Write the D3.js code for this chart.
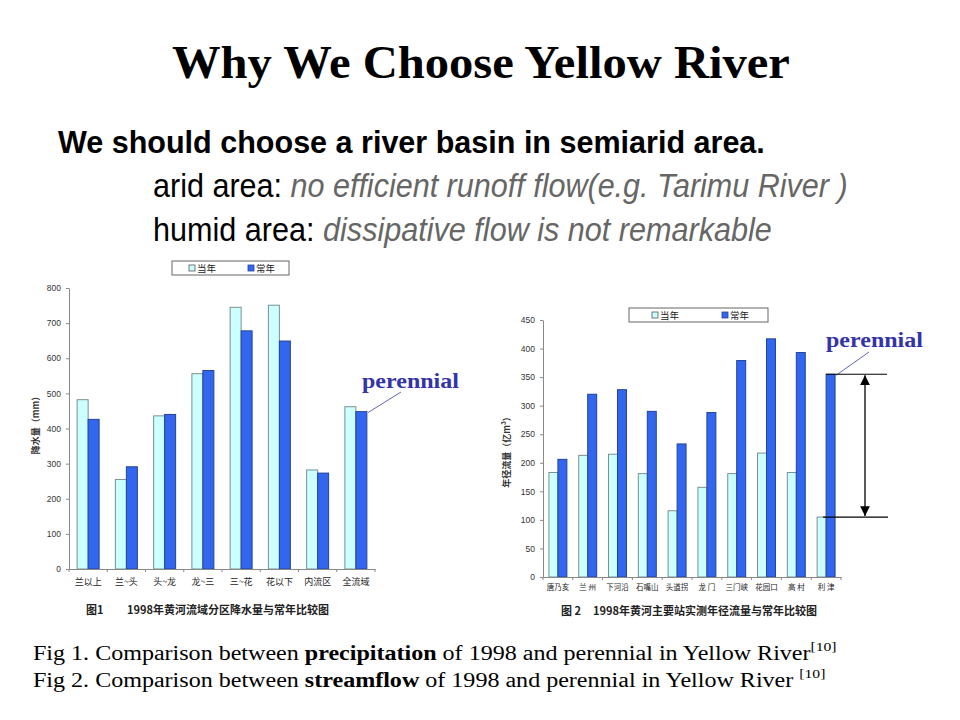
<!DOCTYPE html>
<html>
<head>
<meta charset="utf-8">
<script src="https://cdn.jsdelivr.net/npm/d3@7"></script>
<style>
  html, body { margin: 0; padding: 0; background: #fff; }
  svg { display: block; }
</style>
</head>
<body>
<div id="chart"></div>
<script>
// data
const regions = ['兰以上', '兰~头', '头~龙', '龙~三', '三~花', '花以下', '内流区', '全流域'];
const precip1998 = [482, 255, 436, 556, 745, 751, 282, 462];
const precipNormal = [426, 291, 440, 565, 678, 649, 273, 448];
const precipTicks = [0, 100, 200, 300, 400, 500, 600, 700, 800];

const stations = ['唐乃亥', '兰 州', '下河沿', '石嘴山', '头道拐', '龙 门', '三门峡', '花园口', '高 村', '利 津'];
const flow1998 = [183, 213, 215, 181, 116, 157, 181, 217, 183, 105];
const flowNormal = [206, 320, 328, 290, 233, 288, 379, 417, 393, 355];
const flowTicks = [0, 50, 100, 150, 200, 250, 300, 350, 400, 450];

const seriesNames = ['当年', '常年'];

const W = 960, H = 720;
const CJK = '"Noto Sans CJK SC", "Noto Sans", sans-serif';
const SANS = '"Liberation Sans", Arial, sans-serif';
const SERIF = '"Liberation Serif", "Times New Roman", serif';
const lightFill = '#ccffff', lightStroke = '#7a9090';
const blueFill = '#3366ee', blueStroke = '#23449a';

const svg = d3.select('#chart').append('svg').attr('width', W).attr('height', H);

// draw text then squeeze it horizontally to the width seen in the slide
function fitText(x, y, width, parts, base) {
  const t = svg.append('text').attr('x', 0).attr('y', 0);
  Object.entries(base).forEach(([k, v]) => t.style(k, v));
  parts.forEach((p) => {
    const s = t.append('tspan').text(p.text);
    if (p.style) Object.entries(p.style).forEach(([k, v]) => s.style(k, v));
    if (p.dy) s.attr('dy', p.dy);
  });
  const w = t.node().getComputedTextLength();
  t.attr('transform', `translate(${x},${y}) scale(${width / w},1)`);
  return t;
}

// slide text
fitText(172, 78, 618, [{ text: 'Why We Choose Yellow River' }],
  { 'font-family': SERIF, 'font-weight': 'bold', 'font-size': '46px', fill: '#000' });
fitText(58, 153, 707, [{ text: 'We should choose a river basin in semiarid area.' }],
  { 'font-family': SANS, 'font-weight': 'bold', 'font-size': '32px', fill: '#000' });
fitText(153, 197, 695, [
  { text: 'arid area: ' },
  { text: 'no efficient runoff flow(e.g. Tarimu River )', style: { 'font-style': 'italic', fill: '#666' } }
], { 'font-family': SANS, 'font-size': '33px', fill: '#000' });
fitText(153, 241, 619, [
  { text: 'humid area: ' },
  { text: 'dissipative flow is not remarkable', style: { 'font-style': 'italic', fill: '#666' } }
], { 'font-family': SANS, 'font-size': '33px', fill: '#000' });

fitText(33, 660, 804, [
  { text: 'Fig 1. Comparison between ' },
  { text: 'precipitation', style: { 'font-weight': 'bold' } },
  { text: ' of 1998 and perennial in Yellow River' },
  { text: '[10]', style: { 'font-size': '13px' }, dy: -9 }
], { 'font-family': SERIF, 'font-size': '20px', fill: '#000' });
fitText(33, 687, 793, [
  { text: 'Fig 2. Comparison between ' },
  { text: 'streamflow', style: { 'font-weight': 'bold' } },
  { text: ' of 1998 and perennial in Yellow River ' },
  { text: '[10]', style: { 'font-size': '13px' }, dy: -9 }
], { 'font-family': SERIF, 'font-size': '20px', fill: '#000' });

function barChart(cfg) {
  const g = svg.append('g');
  const x = d3.scaleBand().domain(cfg.cats).range([cfg.x0, cfg.x1]).padding(0);
  const xs = d3.scaleBand().domain(seriesNames).range([0, x.bandwidth()])
    .paddingInner(0).paddingOuter(cfg.groupPad);
  const y = d3.scaleLinear().domain([0, cfg.yMax]).range([cfg.yBottom, cfg.yTop]);

  const rows = cfg.cats.map((c, i) => ({ cat: c, vals: [cfg.a[i], cfg.b[i]] }));
  const grp = g.selectAll('g.cat').data(rows).enter().append('g')
    .attr('class', 'cat').attr('transform', (d) => `translate(${x(d.cat)},0)`);
  grp.selectAll('rect').data((d) => d.vals.map((v, k) => ({ s: seriesNames[k], v, k })))
    .enter().append('rect')
    .attr('x', (d) => xs(d.s)).attr('y', (d) => y(d.v))
    .attr('width', xs.bandwidth()).attr('height', (d) => y(0) - y(d.v))
    .attr('fill', (d) => (d.k ? blueFill : lightFill))
    .attr('stroke', (d) => (d.k ? blueStroke : lightStroke))
    .attr('stroke-width', 1);

  // y axis
  const ya = g.append('g').attr('transform', `translate(${cfg.x0},0)`)
    .call(d3.axisLeft(y).tickValues(cfg.ticks).tickSize(3).tickSizeOuter(0).tickPadding(5));
  ya.selectAll('text').style('font-family', SANS).style('font-size', '8.5px').attr('fill', '#333');
  ya.selectAll('line, path').attr('stroke', '#888');

  // x axis: labels under each category, ticks on the boundaries
  const xa = g.append('g').attr('transform', `translate(0,${cfg.yBottom})`)
    .call(d3.axisBottom(x).tickSize(0).tickPadding(cfg.labelPad));
  xa.select('path').attr('stroke', '#888');
  xa.selectAll('text').style('font-family', CJK).style('font-size', cfg.labelSize).attr('fill', '#222');
  const bounds = cfg.cats.map((c) => x(c)).concat([x(cfg.cats[cfg.cats.length - 1]) + x.step()]);
  g.selectAll('line.bt').data(bounds).enter().append('line').attr('class', 'bt')
    .attr('x1', (d) => d).attr('x2', (d) => d)
    .attr('y1', cfg.yBottom).attr('y2', cfg.yBottom + 3).attr('stroke', '#888');

  // y title
  g.append('text').attr('transform', `translate(${cfg.yTitleX},${cfg.yTitleY}) rotate(-90)`)
    .attr('text-anchor', 'middle').style('font-family', CJK).style('font-size', '9px')
    .style('font-weight', 'bold').attr('fill', '#333').text(cfg.yTitle);

  // legend
  const lg = g.append('g');
  lg.append('rect').attr('x', cfg.legend.x).attr('y', cfg.legend.y)
    .attr('width', cfg.legend.w).attr('height', cfg.legend.h)
    .attr('fill', '#fff').attr('stroke', '#666').attr('stroke-width', 1);
  seriesNames.forEach((s, k) => {
    const sx = cfg.legend.x + cfg.legend.items[k];
    const cy = cfg.legend.y + cfg.legend.h / 2;
    lg.append('rect').attr('x', sx).attr('y', cy - 3).attr('width', 6).attr('height', 6)
      .attr('fill', k ? blueFill : lightFill).attr('stroke', k ? blueStroke : '#555').attr('stroke-width', 0.8);
    lg.append('text').attr('x', sx + 8).attr('y', cy + 3.5)
      .style('font-family', CJK).style('font-size', '9.5px').attr('fill', '#222').text(s);
  });

  // figure title
  const ft = g.append('text').attr('y', cfg.figY).style('font-family', CJK)
    .style('font-size', '11px').style('font-weight', 'bold').attr('fill', '#222');
  ft.append('tspan').attr('x', cfg.figNumX).text(cfg.figNum);
  ft.append('tspan').attr('x', cfg.figTextX).text(cfg.figText);

  return { x, xs, y, g };
}

const c1 = barChart({
  cats: regions, a: precip1998, b: precipNormal, ticks: precipTicks, yMax: 800,
  x0: 69, x1: 375, yTop: 288, yBottom: 569, groupPad: 0.74,
  labelSize: '9px', labelPad: 10,
  yTitle: '降水量（mm）', yTitleX: 39, yTitleY: 423,
  legend: { x: 172, y: 261, w: 117, h: 14, items: [17, 76] },
  figY: 614, figNum: '图1', figNumX: 86, figText: '1998年黄河流域分区降水量与常年比较图', figTextX: 127
});

const c2 = barChart({
  cats: stations, a: flow1998, b: flowNormal, ticks: flowTicks, yMax: 450,
  x0: 543, x1: 841, yTop: 320, yBottom: 577, groupPad: 0.66,
  labelSize: '7.5px', labelPad: 8,
  yTitle: '年径流量（亿m³）', yTitleX: 510, yTitleY: 450,
  legend: { x: 629, y: 308, w: 139, h: 14, items: [23, 93] },
  figY: 615, figNum: '图 2', figNumX: 561, figText: '1998年黄河主要站实测年径流量与常年比较图', figTextX: 593
});

// "perennial" callouts pointing at the last blue bar of each chart
const perColor = '#3333aa';
function callout(c, cats, vals, textX, textY, fromX, fromY) {
  const last = cats[cats.length - 1];
  const bx = c.x(last) + c.xs('常年') + c.xs.bandwidth();
  const by = c.y(vals[vals.length - 1]);
  svg.append('line').attr('x1', fromX).attr('y1', fromY).attr('x2', bx + 1).attr('y2', by + 1)
    .attr('stroke', '#6666bb').attr('stroke-width', 1);
  fitText(textX, textY, 97, [{ text: 'perennial' }],
    { 'font-family': SERIF, 'font-weight': 'bold', 'font-size': '22px', fill: perColor });
  return { bx, by };
}
callout(c1, regions, precipNormal, 362, 388, 401, 392);
callout(c2, stations, flowNormal, 826, 347, 869, 352);

// bracket showing the gap between 常年 and 当年 at 利津
const lastSt = stations[stations.length - 1];
const yHi = c2.y(flowNormal[flowNormal.length - 1]);
const yLo = c2.y(flow1998[flow1998.length - 1]);
const blueX = c2.x(lastSt) + c2.xs('常年');
svg.append('line').attr('x1', blueX).attr('x2', 887).attr('y1', yHi).attr('y2', yHi)
  .attr('stroke', '#000').attr('stroke-width', 1.2);
svg.append('line').attr('x1', blueX - 3).attr('x2', 888).attr('y1', yLo).attr('y2', yLo)
  .attr('stroke', '#000').attr('stroke-width', 1.2);
const defs = svg.append('defs');
defs.append('marker').attr('id', 'ah').attr('viewBox', '0 0 10 10').attr('refX', 10).attr('refY', 5)
  .attr('markerWidth', 7.5).attr('markerHeight', 7.5).attr('orient', 'auto-start-reverse')
  .append('path').attr('d', 'M0,0L10,5L0,10Z').attr('fill', '#000');
svg.append('line').attr('x1', 865).attr('x2', 865).attr('y1', yHi + 1).attr('y2', yLo - 1)
  .attr('stroke', '#000').attr('stroke-width', 1.3)
  .attr('marker-start', 'url(#ah)').attr('marker-end', 'url(#ah)');
</script>
</body>
</html>
